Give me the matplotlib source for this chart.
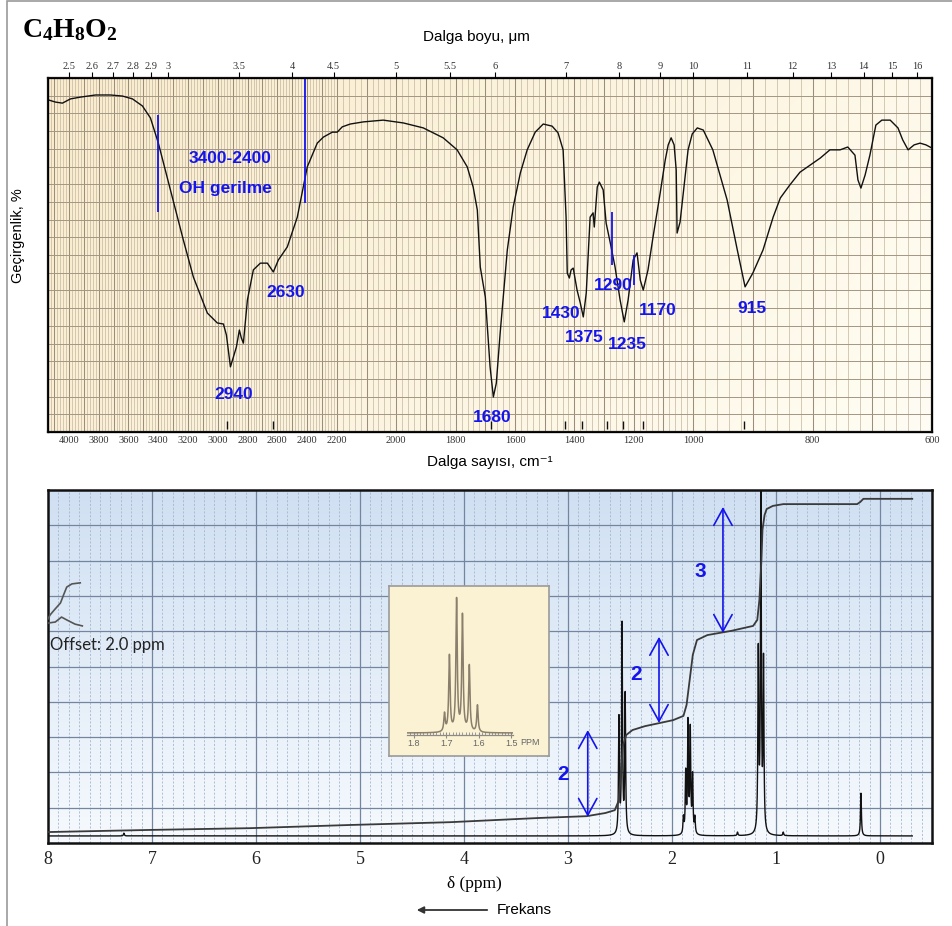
import numpy as np
import matplotlib
matplotlib.use('Agg')
import matplotlib.pyplot as plt
from matplotlib.patches import Rectangle, FancyArrowPatch

plt.rcParams['font.family'] = ['Liberation Sans', 'DejaVu Sans']
plt.rcParams['mathtext.fontset'] = 'custom'
plt.rcParams['mathtext.rm'] = 'Liberation Serif'
plt.rcParams['mathtext.bf'] = 'Liberation Serif:bold'
plt.rcParams['mathtext.it'] = 'Liberation Serif:italic'

BLUE = '#1414ee'
SERIF = ['Liberation Serif', 'DejaVu Serif']

# ---------------- IR data ----------------
ir_wavenumber = [4137, 4090, 4043, 3989, 3922, 3821, 3721, 3640, 3573, 3506, 3452, 3399, 3318, 3231, 3164,
                 3070, 3003, 2962, 2942, 2915, 2895, 2875, 2855, 2842, 2828, 2801, 2761, 2714, 2667, 2627,
                 2593, 2533, 2466, 2399, 2332, 2291, 2231, 2199, 2182, 2155, 2111, 2044, 1976, 1909, 1842,
                 1795, 1761, 1741, 1727, 1717, 1700, 1684, 1673, 1663, 1650, 1626, 1606, 1582, 1559, 1532,
                 1505, 1475, 1455, 1438, 1428, 1424, 1417, 1411, 1404, 1391, 1380, 1370, 1360, 1347, 1337,
                 1333, 1323, 1316, 1303, 1293, 1279, 1263, 1246, 1232, 1219, 1202, 1189, 1178, 1168, 1152,
                 1135, 1111, 1094, 1084, 1074, 1064, 1057, 1054, 1044, 1027, 1017, 1003, 993, 983, 967,
                 943, 926, 913, 900, 883, 866, 854, 838, 821, 804, 787, 771, 754, 741, 729,
                 724, 719, 712, 704, 694, 684, 670, 657, 649, 640, 630, 620, 610, 600]
ir_transmittance = [93.8, 93.2, 92.9, 94.1, 94.6, 95.2, 95.2, 94.9, 94.1, 92.1, 88.7, 81.6, 68.4, 54.2, 43.8,
                    33.6, 30.8, 30.5, 27.4, 18.4, 21.2, 24.0, 28.8, 26.6, 25.1, 37.3, 45.8, 47.7, 47.7, 45.2,
                    48.6, 52.3, 60.7, 74.9, 81.6, 83.3, 84.7, 84.7, 86.2, 87.0, 87.6, 88.1, 87.3, 85.9, 83.1,
                    79.7, 74.9, 69.2, 62.7, 46.6, 38.1, 18.4, 9.9, 13.8, 28.0, 51.4, 63.6, 73.2, 79.7, 84.7,
                    87.0, 86.4, 84.5, 79.7, 60.7, 44.9, 43.5, 45.8, 46.3, 40.1, 36.4, 32.5, 39.3, 60.7, 61.9,
                    57.9, 69.2, 70.6, 68.4, 59.0, 53.4, 46.6, 37.3, 31.1, 37.3, 48.6, 50.6, 42.9, 40.1, 45.8,
                    55.1, 67.5, 76.8, 81.1, 83.1, 81.1, 74.0, 56.2, 59.3, 72.0, 79.7, 84.2, 85.9, 85.3, 79.7,
                    65.5, 51.4, 41.0, 44.9, 51.4, 60.7, 66.1, 69.8, 73.4, 75.4, 77.4, 79.7, 79.7, 80.5, 78.2,
                    71.2, 68.9, 72.6, 78.2, 86.7, 88.1, 88.1, 85.9, 82.5, 79.7, 81.1, 81.6, 81.1, 80.2]

ir_bottom_ticks = [4000, 3800, 3600, 3400, 3200, 3000, 2800, 2600, 2400, 2200,
                   2000, 1800, 1600, 1400, 1200, 1000, 800, 600]
ir_top_um = [2.5, 2.6, 2.7, 2.8, 2.9, 3, 3.5, 4, 4.5, 5, 5.5, 6, 7, 8, 9, 10, 11, 12, 13, 14, 15, 16]
ir_top_labels = ['2.5', '2.6', '2.7', '2.8', '2.9', '3', '3.5', '4', '4.5', '5', '5.5', '6', '7', '8',
                 '9', '10', '11', '12', '13', '14', '15', '16']

ir_peak_labels = ['2940', '2630', '1680', '1430', '1375', '1290', '1235', '1170', '915']
ir_peak_label_w = [2895, 2546, 1677, 1444, 1367, 1269, 1222, 1118, 901]
ir_peak_label_t = [10.5, 39.3, 4.2, 33.6, 26.6, 41.5, 24.6, 34.2, 35.0]
ir_marker_w = [2940, 2630, 1680, 1430, 1375, 1290, 1235, 1170, 915]

ir_blue_line_w = [3399, 2412, 1272, 1199]
ir_blue_line_lo = [62.1, 64.7, 47.2, 41.5]
ir_blue_line_hi = [89.5, 100.0, 62.1, 50.0]

# ---------------- NMR data ----------------
nmr_peak_ppm = [2.51, 2.48, 2.45,
                1.89, 1.868, 1.846, 1.824, 1.802, 1.78,
                1.170, 1.145, 1.120,
                0.183, 1.37, 0.93, 7.27]
nmr_peak_height = [32.5, 58.9, 39.1,
                   4.5, 17.0, 31.0, 29.0, 16.0, 4.5,
                   50.4, 94.6, 47.6,
                   12.1, 1.0, 1.0, 0.8]
nmr_baseline = 2.0

integral_ppm = [8.0, 7.02, 6.06, 5.10, 4.13, 3.27, 2.82, 2.64, 2.55, 2.51, 2.49, 2.47, 2.44, 2.38, 2.26,
                1.99, 1.89, 1.86, 1.83, 1.80, 1.76, 1.66, 1.43, 1.22, 1.18, 1.16, 1.14, 1.13, 1.11, 1.09,
                1.03, 0.93, 0.22, 0.19, 0.16, -0.31]
integral_val = [3.1, 3.7, 4.2, 5.1, 5.9, 7.1, 7.6, 8.5, 9.3, 12.2, 20.7, 27.8, 30.6, 32.0, 33.1,
                34.8, 36.0, 39.1, 46.2, 53.3, 57.5, 58.9, 60.1, 61.5, 63.2, 68.8, 80.2, 88.7, 92.9, 94.6,
                95.5, 96.0, 96.0, 96.6, 97.5, 97.5]

offset_int_ppm = [8.0, 7.98, 7.94, 7.88, 7.85, 7.82, 7.77, 7.69]
offset_int_val = [63.5, 64.6, 66.0, 68.0, 70.3, 72.5, 73.4, 73.7]
offset_peak_ppm = [8.0, 7.93, 7.87, 7.82, 7.74, 7.67]
offset_peak_val = [62.3, 62.6, 64.0, 63.2, 62.0, 61.5]

arrow_ppm = [2.81, 2.125, 1.51]
arrow_lo = [7.4, 34.0, 59.5]
arrow_hi = [32.0, 58.4, 95.2]
arrow_labels = ['2', '2', '3']
arrow_label_ppm = [3.05, 2.35, 1.73]
arrow_label_y = [19.3, 47.6, 76.8]

inset_peak_ppm = [1.705, 1.690, 1.668, 1.650, 1.629, 1.604]
inset_peak_height = [18, 76, 132, 116, 66, 27]
inset_ticks = [1.8, 1.7, 1.6, 1.5]

nmr_ticks = [0, 1, 2, 3, 4, 5, 6, 7, 8]

# ---------------- figure ----------------
W, H = 953, 926
fig = plt.figure(figsize=(W / 100, H / 100), dpi=100)


def fbox(x0, y0, x1, y1):
    return [x0 / W, 1 - y1 / H, (x1 - x0) / W, (y1 - y0) / H]


# outer frame
fig.add_artist(Rectangle((7 / W, -0.01), 1.2, 1.0092, transform=fig.transFigure,
                         fill=False, edgecolor='#9a9a9a', lw=1.2))

# ---- IR axes with piecewise-linear wavenumber scale ----
_bw = [600, 1000, 2200, 5000]
_bd = [0, 239.0, 595.4, 1012.6]


def ir_fwd(w):
    return np.interp(w, _bw, _bd)


def ir_inv(d):
    return np.interp(d, _bd, _bw)


ax = fig.add_axes(fbox(48, 78, 932, 432))
grad = np.linspace(0, 1, 256)
gx, gy = np.meshgrid(grad, grad)
mixv = np.clip(0.75 * gx + 0.25 * (1 - gy), 0, 1)
c0 = np.array([0.980, 0.925, 0.800])
c1 = np.array([1.0, 0.992, 0.955])
img = c0[None, None, :] * (1 - mixv[..., None]) + c1[None, None, :] * mixv[..., None]
ax.imshow(img, extent=[0, 1, 0, 1], transform=ax.transAxes, aspect='auto', zorder=0, origin='lower')
ax.set_xscale('function', functions=(ir_fwd, ir_inv))
ax.set_xlim(4140, 600)
ax.set_ylim(0, 100)

gw = np.arange(620, 4140, 20)
minor_w = [w for w in gw if w % 100 != 0]
major_w = [w for w in gw if w % 100 == 0]
ax.vlines(minor_w, 0, 100, colors='#c9bca6', lw=0.55, zorder=1)
ax.vlines(major_w, 0, 100, colors='#9a8d7a', lw=0.75, zorder=1)
ax.hlines(np.arange(5, 100, 5), 4140, 600, colors='#a39682', lw=0.7, zorder=1)

ax.plot(ir_wavenumber, ir_transmittance, color='#111111', lw=1.0, zorder=4)
ax.vlines(ir_marker_w, 0.8, 3.0, colors='#111111', lw=1.0, zorder=4)
ax.vlines(ir_blue_line_w, ir_blue_line_lo, ir_blue_line_hi, colors=BLUE, lw=1.3, zorder=5)

for lab, w, t in zip(ir_peak_labels, ir_peak_label_w, ir_peak_label_t):
    ax.text(w, t, lab, color=BLUE, fontsize=12.5, fontweight='bold', ha='center', va='center', zorder=6)
ax.text(2915, 77.4, '3400-2400', color=BLUE, fontsize=12.5, fontweight='bold', ha='center', va='center', zorder=6)
ax.text(2949, 68.9, 'OH gerilme', color=BLUE, fontsize=12.5, fontweight='bold', ha='center', va='center', zorder=6)

ax.set_yticks([])
ax.set_xticks(ir_bottom_ticks)
ax.set_xticklabels([str(v) for v in ir_bottom_ticks], fontfamily=SERIF, fontsize=7.5, color='#333333')
ax.xaxis.set_minor_locator(matplotlib.ticker.NullLocator())
ax.tick_params(axis='x', length=0, pad=3)
for s in ax.spines.values():
    s.set_linewidth(1.6)
    s.set_color('#111111')

ax2 = ax.twiny()
ax2.set_xscale('function', functions=(ir_fwd, ir_inv))
ax2.set_xlim(4140, 600)
ax2.set_xticks([1e4 / u for u in ir_top_um])
ax2.set_xticklabels(ir_top_labels, fontfamily=SERIF, fontsize=7.5, color='#333333')
ax2.xaxis.set_minor_locator(matplotlib.ticker.NullLocator())
ax2.tick_params(axis='x', length=4, width=0.8, pad=1, direction='out')
ax2.set_yticks([])

fig.text(22 / W, 1 - 37 / H, r'$\mathbf{C_4H_8O_2}$', fontsize=20, ha='left', va='baseline')
fig.text(476 / W, 1 - 37 / H, 'Dalga boyu, μm', fontsize=11, ha='center', va='center')
fig.text(490 / W, 1 - 462 / H, 'Dalga sayısı, cm⁻¹', fontsize=11, ha='center', va='center')
fig.text(18 / W, 1 - 236 / H, 'Geçirgenlik, %', fontsize=10.5, ha='center', va='center', rotation=90)

# ---- NMR axes ----
bx = fig.add_axes(fbox(48, 490, 932, 843))
ng = np.linspace(0, 1, 256)[:, None]
b0 = np.array([0.965, 0.980, 0.995])
b1 = np.array([0.815, 0.878, 0.950])
nimg = b0[None, None, :] * (1 - ng[..., None]) + b1[None, None, :] * ng[..., None]
nimg = np.repeat(nimg, 4, axis=1)
bx.imshow(nimg, extent=[0, 1, 0, 1], transform=bx.transAxes, aspect='auto', zorder=0, origin='lower')
bx.set_xlim(8.0, -0.5)
bx.set_ylim(0, 100)

minor_ppm = [p for p in np.round(np.arange(-0.4, 8.0, 0.1), 2) if abs(p - round(p)) > 1e-6]
bx.vlines(minor_ppm, 0, 100, colors='#a6b6cc', lw=0.6, linestyles=(0, (2.5, 2)), zorder=1)
bx.vlines(np.arange(0, 8), 0, 100, colors='#74869f', lw=0.9, zorder=1)
bx.hlines(np.arange(10, 100, 10), 8.0, -0.5, colors='#74869f', lw=0.9, zorder=1)

ppm = np.linspace(-0.31, 8.0, 60000)
spec = np.full_like(ppm, nmr_baseline)
gam = 0.005
for p0, h0 in zip(nmr_peak_ppm, nmr_peak_height):
    spec += h0 * gam ** 2 / ((ppm - p0) ** 2 + gam ** 2)
bx.plot(ppm, spec, color='#111111', lw=1.0, zorder=4)
bx.plot(integral_ppm, integral_val, color='#3a3a3a', lw=1.3, zorder=4)
bx.plot(offset_int_ppm, offset_int_val, color='#555555', lw=1.2, zorder=4)
bx.plot(offset_peak_ppm, offset_peak_val, color='#555555', lw=1.2, zorder=4)
bx.text(7.98, 56.1, 'Offset: 2.0 ppm', fontsize=12, fontfamily=['Lato', 'DejaVu Sans'],
        color='#222222', ha='left', va='center', zorder=6)

for xp, lo, hi in zip(arrow_ppm, arrow_lo, arrow_hi):
    bx.annotate('', xy=(xp, hi), xytext=(xp, lo),
                arrowprops=dict(arrowstyle='<->,head_length=0.6,head_width=0.33', color=BLUE,
                                lw=1.2, shrinkA=0, shrinkB=0, mutation_scale=20), zorder=6)
for lab, xp, yp in zip(arrow_labels, arrow_label_ppm, arrow_label_y):
    bx.text(xp, yp, lab, color=BLUE, fontsize=15, fontweight='bold', ha='center', va='center', zorder=6)

bx.set_yticks([])
bx.set_xticks(nmr_ticks)
bx.set_xticklabels([str(v) for v in nmr_ticks], fontfamily=SERIF, fontsize=13, color='#222222')
bx.tick_params(axis='x', length=0, pad=6)
for s in bx.spines.values():
    s.set_linewidth(1.8)
    s.set_color('#111111')

fig.text(474 / W, 1 - 884 / H, 'δ (ppm)', fontsize=12.5, fontfamily=SERIF, ha='center', va='center')
fig.text(497 / W, 1 - 910 / H, 'Frekans', fontsize=11, ha='left', va='center')
fig.add_artist(FancyArrowPatch((490 / W, 1 - 910 / H), (414 / W, 1 - 910 / H), transform=fig.transFigure,
                               arrowstyle='-|>', mutation_scale=10, color='#333333', lw=1.3))

# ---- inset ----
ib = fig.add_axes(fbox(389, 586, 549, 756))
ib.set_facecolor('#fbf2d3')
ib.set_xticks([])
ib.set_yticks([])
for s in ib.spines.values():
    s.set_color('#9a9a9a')
    s.set_linewidth(1.2)
ib.set_zorder(5)

ia = fig.add_axes(fbox(407, 590, 513, 735))
ia.set_zorder(6)
ia.patch.set_alpha(0)
ia.set_xlim(1.82, 1.495)
ia.set_ylim(0, 145)
ip = np.linspace(1.82, 1.495, 6000)
ispec = np.full_like(ip, 2.0)
ig = 0.0025
for p0, h0 in zip(inset_peak_ppm, inset_peak_height):
    ispec += h0 * ig ** 2 / ((ip - p0) ** 2 + ig ** 2)
ia.plot(ip, ispec, color='#8a7f6c', lw=1.1)
for k in ['top', 'left', 'right']:
    ia.spines[k].set_visible(False)
ia.spines['bottom'].set_color('#8a8a8a')
ia.spines['bottom'].set_linewidth(0.9)
ia.set_yticks([])
ia.set_xticks(inset_ticks)
ia.set_xticklabels([str(v) for v in inset_ticks], fontsize=6.5, color='#666666')
ia.set_xticks(np.round(np.arange(1.81, 1.495, -0.01), 2), minor=True)
ia.tick_params(axis='x', which='major', length=4, direction='inout', color='#8a8a8a', pad=1)
ia.tick_params(axis='x', which='minor', length=2.5, direction='in', color='#8a8a8a')
ia.annotate('PPM', xy=(1.16, 0), xycoords='axes fraction', xytext=(0, -2.5), textcoords='offset points',
            fontsize=6.5, color='#666666', ha='center', va='top')

fig.savefig('out.png', dpi=100)
